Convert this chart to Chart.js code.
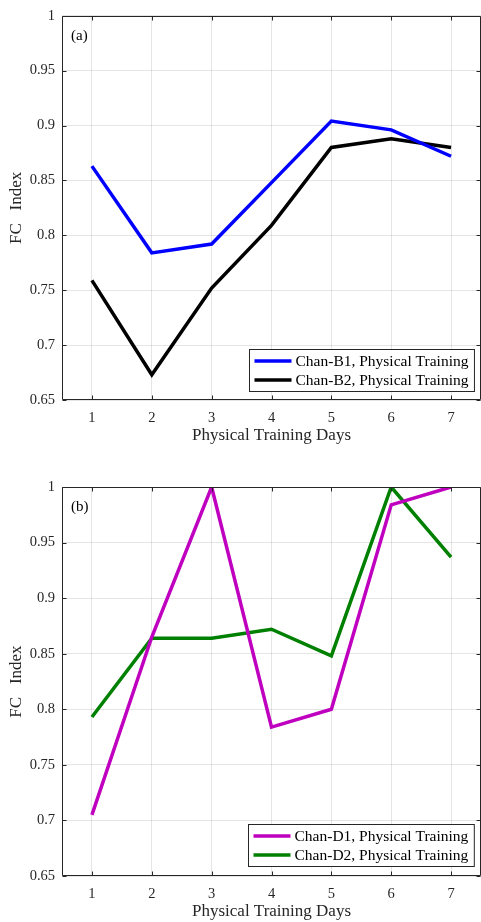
<!DOCTYPE html>
<html><head><meta charset="utf-8">
<script src="https://cdn.jsdelivr.net/npm/chart.js@4.4.1/dist/chart.umd.min.js"></script>
<style>
html,body{margin:0;padding:0;background:#fff;}
#wrap{position:relative;width:481px;height:922px;overflow:hidden;}
.panel{position:absolute;left:0;width:481px;}
</style></head><body>
<div id="wrap">
  <div class="panel" style="top:0;height:460px"><canvas id="chartA"></canvas></div>
  <div class="panel" style="top:460px;height:462px"><canvas id="chartB"></canvas></div>
</div>
<script>
// Training days on the x axis
const days = ['1', '2', '3', '4', '5', '6', '7'];
// FC index per channel, panel (a)
const chanB1 = [0.863, 0.784, 0.792, 0.848, 0.904, 0.896, 0.872];
const chanB2 = [0.759, 0.673, 0.752, 0.809, 0.880, 0.888, 0.880];
// FC index per channel, panel (b)
const chanD1 = [0.705, 0.865, 1.000, 0.784, 0.800, 0.984, 1.000];
const chanD2 = [0.793, 0.864, 0.864, 0.872, 0.848, 1.000, 0.937];
// y axis ticks
const yTickValues = [0.65, 0.7, 0.75, 0.8, 0.85, 0.9, 0.95, 1];
const yTickLabels = ['0.65', '0.7', '0.75', '0.8', '0.85', '0.9', '0.95', '1'];

const FONT = "'Liberation Serif', 'Times New Roman', serif";
const INK = '#262626';

// Box outline, inward tick marks, panel tag and legend, drawn MATLAB-style
const axesDecor = {
  id: 'axesDecor',
  afterDatasetsDraw(chart, args, opts) {
    const {ctx, chartArea: a, scales: {x, y}} = chart;
    ctx.save();
    ctx.strokeStyle = INK;
    ctx.lineWidth = 1;
    const L = Math.round(a.left) + 0.5, R = Math.round(a.right) - 0.5;
    const T = Math.round(a.top) + 0.5, B = Math.round(a.bottom) - 0.5;
    ctx.beginPath();
    ctx.moveTo(L, T); ctx.lineTo(R, T); ctx.lineTo(R, B);
    ctx.moveTo(L, T); ctx.lineTo(L, B); ctx.lineTo(R, B);
    x.ticks.forEach((t, i) => {
      const px = Math.round(x.getPixelForTick(i)) + 0.5;
      ctx.moveTo(px, B); ctx.lineTo(px, B - 4);
      ctx.moveTo(px, T); ctx.lineTo(px, T + 4);
    });
    y.ticks.forEach((t) => {
      const py = Math.round(y.getPixelForValue(t.value)) + 0.5;
      ctx.moveTo(L, py); ctx.lineTo(L + 4, py);
      ctx.moveTo(R, py); ctx.lineTo(R - 4, py);
    });
    ctx.stroke();

    // panel tag
    ctx.fillStyle = '#000';
    ctx.font = '15px ' + FONT;
    ctx.textAlign = 'left';
    ctx.textBaseline = 'middle';
    ctx.fillText(opts.tag, a.left + 9, a.top + 20);

    // legend box in the lower right corner
    ctx.font = '15.5px ' + FONT;
    const ds = chart.data.datasets;
    const textW = Math.max(...ds.map(d => ctx.measureText(d.label).width));
    const rowH = 19;
    const boxW = 5 + 37 + 4 + textW + 6;
    const boxH = rowH * ds.length + 4;
    const bx = Math.round(a.right - 7 - boxW) + 0.5;
    const by = Math.round(a.bottom - opts.legendBottom - boxH) + 0.5;
    ctx.fillStyle = '#fff';
    ctx.fillRect(bx, by, boxW, boxH);
    ctx.strokeStyle = INK;
    ctx.lineWidth = 1;
    ctx.strokeRect(bx, by, boxW, boxH);
    ds.forEach((d, i) => {
      const cy = by + 2 + rowH * i + rowH / 2;
      ctx.strokeStyle = d.borderColor;
      ctx.lineWidth = d.borderWidth;
      ctx.beginPath();
      ctx.moveTo(bx + 5, cy); ctx.lineTo(bx + 42, cy);
      ctx.stroke();
      ctx.fillStyle = '#000';
      ctx.textAlign = 'left';
      ctx.textBaseline = 'middle';
      ctx.fillText(d.label, bx + 46, cy + 1);
    });
    ctx.restore();
  }
};

function makeChart(id, series, tag, pad, legendBottom) {
  return new Chart(document.getElementById(id), {
    type: 'line',
    data: {
      labels: days,
      datasets: series.map(s => ({
        label: s.label,
        data: s.data,
        borderColor: s.color,
        backgroundColor: s.color,
        borderWidth: 3.5,
        pointRadius: 0,
        tension: 0,
        fill: false
      }))
    },
    options: {
      responsive: true,
      maintainAspectRatio: false,
      animation: false,
      layout: {padding: pad},
      plugins: {
        legend: {display: false},
        tooltip: {enabled: false},
        axesDecor: {tag: tag, legendBottom: legendBottom}
      },
      scales: {
        x: {
          type: 'category',
          offset: true,
          afterFit(s) { s.height = 46; },
          grid: {color: 'rgba(38,38,38,0.12)', drawTicks: false, offset: false},
          border: {display: false},
          ticks: {color: INK, font: {family: FONT, size: 14.5}, padding: 9, maxRotation: 0},
          title: {display: true, text: 'Physical Training Days', color: INK,
                  font: {family: FONT, size: 17}, padding: {top: 0, bottom: 0}}
        },
        y: {
          type: 'linear',
          min: 0.65,
          max: 1,
          afterFit(s) { s.width = 62; },
          afterBuildTicks(s) { s.ticks = yTickValues.map(v => ({value: v})); },
          grid: {color: 'rgba(38,38,38,0.12)', drawTicks: false},
          border: {display: false},
          ticks: {
            color: INK, font: {family: FONT, size: 14.5}, padding: 7,
            callback(v, i) { return yTickLabels[i]; }
          },
          title: {display: true, text: 'FC   Index', color: INK,
                  font: {family: FONT, size: 17}, padding: {top: 6, bottom: 0}}
        }
      }
    },
    plugins: [axesDecor]
  });
}

makeChart('chartA', [
  {label: 'Chan-B1, Physical Training', data: chanB1, color: '#0000FF'},
  {label: 'Chan-B2, Physical Training', data: chanB2, color: '#000000'}
], '(a)', {top: 12, left: 0, right: 0, bottom: 14}, 9);

makeChart('chartB', [
  {label: 'Chan-D1, Physical Training', data: chanD1, color: '#BF00BF'},
  {label: 'Chan-D2, Physical Training', data: chanD2, color: '#008000'}
], '(b)', {top: 27, left: 0, right: 0, bottom: 0}, 10);
</script>
</body></html>
